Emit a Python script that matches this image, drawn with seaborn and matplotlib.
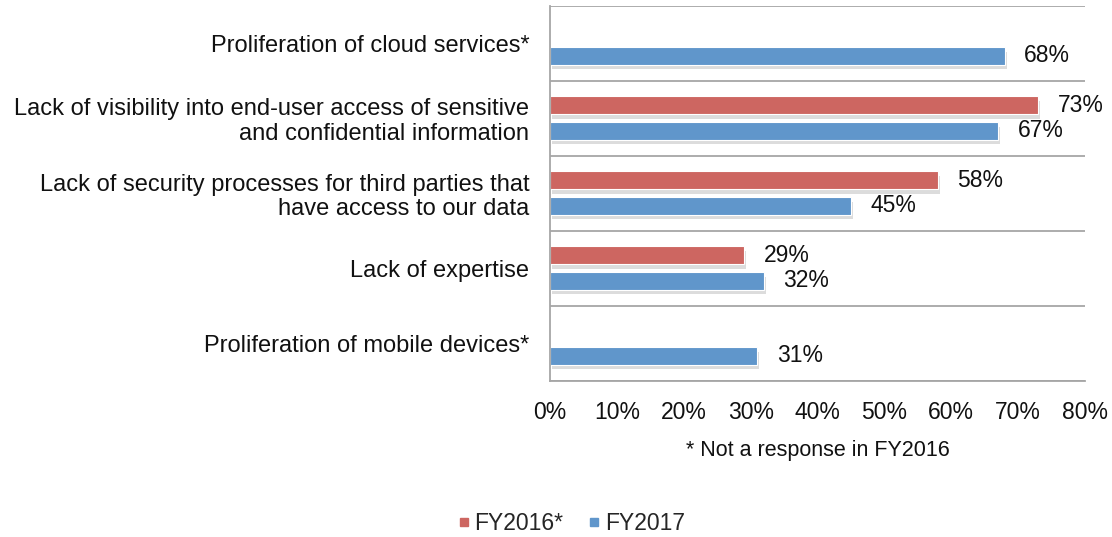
import numpy as np
import pandas as pd
import matplotlib
matplotlib.use("Agg")
import matplotlib.pyplot as plt
import matplotlib.patheffects as pe
from matplotlib.lines import Line2D
import seaborn as sns

categories = [
    "Proliferation of cloud services*",
    "Lack of visibility into end-user access of sensitive\nand confidential information",
    "Lack of security processes for third parties that\nhave access to our data",
    "Lack of expertise",
    "Proliferation of mobile devices*",
]
fy2016 = [np.nan, 73, 58, 29, np.nan]
fy2017 = [68, 67, 45, 32, 31]
series_names = ["FY2016*", "FY2017"]
colors = ["#CD6661", "#6096CB"]
x_ticks = [0, 10, 20, 30, 40, 50, 60, 70, 80]

rows = []
for cat, a, b in zip(categories, fy2016, fy2017):
    if not np.isnan(a):
        rows.append({"category": cat, "value": a, "year": series_names[0]})
    rows.append({"category": cat, "value": b, "year": series_names[1]})
df = pd.DataFrame(rows)

sns.set_style("white")
plt.rcParams["font.family"] = ["Liberation Sans", "DejaVu Sans"]

fs = 16.5
txt = "#111111"
gray = "#A6A6A6"
fig = plt.figure(figsize=(11.12, 5.37), dpi=100)
ax = fig.add_axes([550 / 1112, 1 - 380.5 / 537, (1085 - 550) / 1112, (380.5 - 5.5) / 537])

sns.barplot(data=df, y="category", x="value", hue="year", order=categories,
            hue_order=series_names, palette=colors, orient="h",
            width=0.68, gap=0.31, ax=ax, legend=False, saturation=1)

for patch in ax.patches:
    patch.set_edgecolor("white")
    patch.set_linewidth(0.8)
    patch.set_path_effects([
        pe.SimplePatchShadow(offset=(1.5, -3.5), shadow_rgbFace="#8C8C8C", alpha=0.3),
        pe.Normal(),
    ])

for cont in ax.containers:
    ax.bar_label(cont, fmt="{:.0f}%", padding=14, fontsize=fs, color=txt)

ax.set_xlim(0, 80)
ax.set_ylim(len(categories) - 0.5, -0.5)
ax.set_xticks(x_ticks)
ax.set_xticklabels([f"{v}%" for v in x_ticks], fontsize=fs, color=txt)
ax.set_yticks(range(len(categories)))
ax.set_yticklabels(categories, fontsize=17, color=txt, linespacing=1.15)
ax.set_yticks(np.arange(-0.5, len(categories), 1.0), minor=True)

ax.tick_params(axis="y", which="major", length=0, pad=15)
ax.tick_params(axis="y", which="minor", length=6, width=1.3, color=gray, direction="out")
ax.tick_params(axis="x", which="major", length=6, width=1.3, color=gray, direction="out", pad=9)

ax.grid(False)
ax.grid(which="minor", axis="y", color=gray, linewidth=1.3)
ax.set_axisbelow(True)

for side in ["top", "right"]:
    ax.spines[side].set_visible(False)
for side in ["left", "bottom"]:
    ax.spines[side].set_color(gray)
    ax.spines[side].set_linewidth(1.3)

ax.set_ylabel("")
ax.set_xlabel("* Not a response in FY2016", fontsize=15.5, color=txt, labelpad=11)

handles = [Line2D([0], [0], marker="s", linestyle="", markersize=6,
                  markerfacecolor=c, markeredgecolor=c) for c in colors]
fig.legend(handles, series_names, loc="center", bbox_to_anchor=(0.513, 0.026),
           ncol=2, frameon=False, fontsize=fs, handletextpad=0.1,
           columnspacing=1.0, handlelength=0.7)

fig.savefig("out.png", dpi=100)
